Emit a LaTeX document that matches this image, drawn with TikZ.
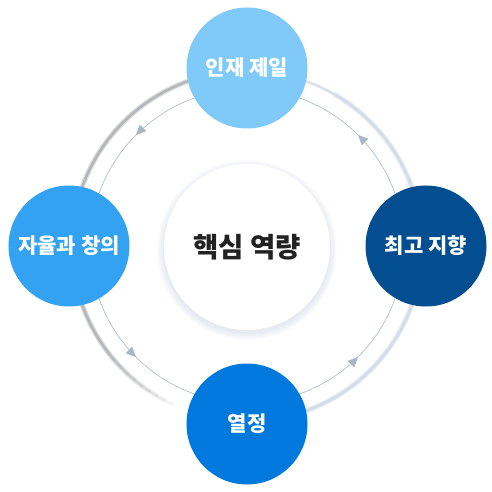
\documentclass[tikz,border=0pt]{standalone}
\usepackage{fontspec}
\newfontfamily\krfont{Noto Sans CJK KR Black}
\usetikzlibrary{arrows.meta,decorations.markings}
\definecolor{talentblue}{HTML}{80CAFA}
\definecolor{freeblue}{HTML}{33A2F2}
\definecolor{bestblue}{HTML}{024E90}
\definecolor{passionblue}{HTML}{0079DF}
\definecolor{flowgray}{HTML}{A9B7C5}
\definecolor{ringgray}{HTML}{B4B6B9}
\definecolor{ringblue}{HTML}{D3DDE9}
\definecolor{coreshadow}{HTML}{C6D1DF}
\definecolor{coretext}{HTML}{222222}

\begin{document}
\begin{tikzpicture}[
  x=1pt,y=1pt,
  value/.style={circle,minimum size=121pt,inner sep=0pt,text=white,
    font=\krfont\fontsize{21}{24}\selectfont},
  core/.style={circle,minimum size=166pt,inner sep=0pt,fill=white,text=coretext,
    font=\krfont\fontsize{27.5}{30}\selectfont},
  flow/.style={draw=flowgray,line width=0.6pt,postaction={decorate},
    decoration={markings,mark=at position 0.5 with {\arrow{Triangle[length=10pt,width=9pt]}}}}
]
\useasboundingbox (-247,-246) rectangle (245,246);
\coordinate (o) at (0,0);

% outer shadow rings
\draw[ringgray!50,line width=5pt] ([shift={(95:175)}]o) arc[start angle=95,end angle=215,radius=175];
\draw[ringgray,line width=2.5pt] ([shift={(95:175)}]o) arc[start angle=95,end angle=215,radius=175];
\foreach \a in {215,218,...,242}{
  \pgfmathsetmacro\op{1-(\a-215)/30}
  \draw[ringgray!50,line width=5pt,opacity=\op] ([shift={(\a:175)}]o) arc[start angle=\a,end angle=\a+3.2,radius=175];
  \draw[ringgray,line width=2.5pt,opacity=\op] ([shift={(\a:175)}]o) arc[start angle=\a,end angle=\a+3.2,radius=175];
}
\draw[ringblue!60,line width=5pt] ([shift={(-75:175)}]o) arc[start angle=-75,end angle=60,radius=175];
\draw[ringblue,line width=2.5pt] ([shift={(-75:175)}]o) arc[start angle=-75,end angle=60,radius=175];
\foreach \a in {60,63,...,84}{
  \pgfmathsetmacro\op{1-(\a-60)/40}
  \draw[ringblue,line width=2.5pt,opacity=\op] ([shift={(\a:175)}]o) arc[start angle=\a,end angle=\a+3.2,radius=175];
}

% cycle arrows
\draw[flow] ([shift={(90:157)}]o) arc[start angle=90,end angle=180,radius=157];
\draw[flow] ([shift={(180:157)}]o) arc[start angle=180,end angle=270,radius=157];
\draw[flow] ([shift={(270:157)}]o) arc[start angle=270,end angle=360,radius=157];
\draw[flow] ([shift={(0:157)}]o) arc[start angle=0,end angle=90,radius=157];

% center shadow
\foreach \i in {1,...,8}
  \fill[coreshadow,opacity=0.07] (0,-4) circle[radius=82+\i];

\node[core] (core) at (0,-1) {핵심 역량};

\node[value,fill=talentblue] (talent) at (0,178) {인재 제일};
\node[value,fill=freeblue] (freedom) at (-178,0) {자율과 창의};
\node[value,fill=bestblue] (best) at (179,0) {최고 지향};
\node[value,fill=passionblue] (passion) at (0,-178) {열정};
\end{tikzpicture}
\end{document}
